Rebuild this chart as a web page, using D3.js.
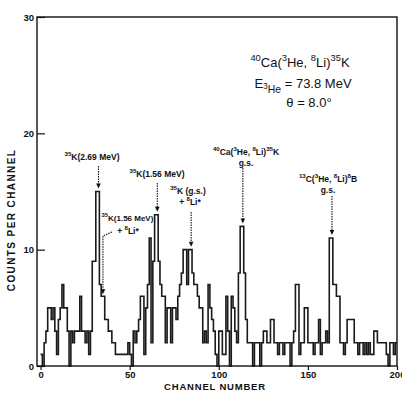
<!DOCTYPE html>
<html>
<head>
<meta charset="utf-8">
<script src="https://cdn.jsdelivr.net/npm/d3@7"></script>
<style>
  html, body { margin: 0; padding: 0; background: #fff; }
  svg { display: block; }
  text { font-family: "Liberation Sans", Arial, sans-serif; fill: #111; }
</style>
</head>
<body>
<svg id="chart" width="402" height="396"></svg>
<script>
// Counts per channel for channels 0..199
const counts = [
  1, 0, 2, 3, 5, 5, 4, 5, 3, 1,
  4, 5, 7, 5, 5, 3, 0, 3, 2, 3,
  3, 3, 6, 3, 3, 2, 3, 1, 3, 9,
  9, 15, 15, 7, 6, 6, 4, 4, 3, 3,
  2, 2, 1, 1, 1, 1, 1, 1, 1, 2,
  1, 0, 3, 2, 3, 4, 6, 6, 1, 5,
  7, 11, 2, 9, 13, 13, 9, 7, 6, 6,
  2, 5, 5, 2, 5, 5, 4, 6, 7, 8,
  10, 10, 7, 10, 10, 8, 7, 7, 6, 5,
  5, 2, 3, 2, 7, 5, 4, 3, 1, 0,
  3, 3, 1, 1, 6, 3, 0, 6, 5, 3,
  2, 8, 12, 12, 8, 4, 2, 2, 2, 0,
  2, 2, 2, 0, 2, 3, 3, 2, 2, 4,
  4, 2, 2, 1, 2, 2, 1, 2, 2, 2,
  0, 2, 3, 7, 7, 1, 2, 2, 5, 5,
  2, 2, 2, 1, 2, 2, 4, 1, 2, 2,
  3, 2, 11, 11, 7, 7, 6, 6, 2, 2,
  1, 2, 4, 4, 4, 4, 2, 2, 1, 2,
  2, 1, 2, 1, 2, 1, 1, 3, 3, 2,
  2, 2, 2, 2, 1, 0, 2, 2, 1, 2
];
const channels = d3.range(counts.length);

const xTickValues = [0, 50, 100, 150, 200];
const yTickValues = [0, 10, 20, 30];

// Reaction annotation (main title block)
const titleLines = [
  [["40", "sup"], ["Ca(", "n"], ["3", "sup"], ["He, ", "n"], ["8", "sup"], ["Li)", "n"], ["35", "sup"], ["K", "n"]],
  [["E", "n"], ["3", "subsup"], ["He", "sub"], [" = 73.8 MeV", "n"]],
  [["\u03B8 = 8.0\u00B0", "n"]]
];

// Peak labels: channel the arrow points at, text lines
const peakChannels = [32, 65, 84, 113, 163];
const peakLabels = [
  [[["35", "sup"], ["K(2.69 MeV)", "n"]]],
  [[["35", "sup"], ["K(1.56 MeV)", "n"]]],
  [[["35", "sup"], ["K (g.s.)", "n"]], [["+ ", "n"], ["8", "sup"], ["Li*", "n"]]],
  [[["40", "sup"], ["Ca(", "n"], ["3", "sup"], ["He, ", "n"], ["8", "sup"], ["Li)", "n"], ["35", "sup"], ["K", "n"]], [["g.s.", "n"]]],
  [[["13", "sup"], ["C(", "n"], ["3", "sup"], ["He, ", "n"], ["8", "sup"], ["Li)", "n"], ["8", "sup"], ["B", "n"]], [["g.s.", "n"]]]
];
const labelX = [92, 157, 188, 246, 328];
const peakLabelY = [160, 177, 194, 155, 182];
const peakArrowTop = [166, 183, 212, 168, 196];

const svg = d3.select("#chart");

const x = d3.scaleLinear().domain([-2, 200]).range([37, 397]);
const y = d3.scaleLinear().domain([0, 30]).range([366, 17]);

// Writes a text element made of normal / superscript / subscript runs
function richText(g, px, py, parts, size, anchor, weight) {
  const t = g.append("text")
    .attr("x", px).attr("y", py)
    .attr("text-anchor", anchor || "start")
    .style("font-size", size + "px")
    .style("font-weight", weight || "normal");
  const offs = { n: 0, sup: -0.45, sub: 0.35, subsup: 0.05 };
  const scl = { n: 1, sup: 0.72, sub: 0.8, subsup: 0.65 };
  let cur = 0;
  parts.forEach(([str, kind]) => {
    const target = offs[kind] * size;
    t.append("tspan")
      .attr("dy", target - cur)
      .style("font-size", (size * scl[kind]) + "px")
      .text(str);
    cur = target;
  });
  return t;
}

// Histogram as a step outline
const stepData = channels.map(c => [c, counts[c]]);
stepData.push([counts.length, counts[counts.length - 1]]);
const line = d3.line()
  .x(d => x(d[0]))
  .y(d => y(d[1]))
  .curve(d3.curveStepAfter);

svg.append("path")
  .datum(stepData)
  .attr("d", line)
  .attr("fill", "none")
  .attr("stroke", "#1a1a1a")
  .attr("stroke-width", 1.6)
  .attr("stroke-linejoin", "miter");

// Frame
svg.append("rect")
  .attr("x", x.range()[0]).attr("y", y.range()[1])
  .attr("width", x.range()[1] - x.range()[0])
  .attr("height", y.range()[0] - y.range()[1])
  .attr("fill", "none")
  .attr("stroke", "#111")
  .attr("stroke-width", 1.4);

// Axes
const yAxis = svg.append("g")
  .attr("transform", `translate(${x.range()[0]},0)`)
  .call(d3.axisLeft(y).tickValues(yTickValues).tickSize(-8).tickPadding(3).tickSizeOuter(0));
const xAxis = svg.append("g")
  .attr("transform", `translate(0,${y.range()[0]})`)
  .call(d3.axisBottom(x).tickValues(xTickValues).tickSize(4).tickPadding(1).tickSizeOuter(0));

[yAxis, xAxis].forEach(a => {
  a.select(".domain").remove();
  a.selectAll(".tick line").attr("stroke", "#111").attr("stroke-width", 1.2);
  a.selectAll(".tick text")
    .style("font-family", "Liberation Sans, Arial, sans-serif")
    .style("font-size", "9.5px")
    .style("font-weight", "bold")
    .attr("fill", "#111");
});

// Axis titles
svg.append("text")
  .attr("transform", "translate(15,220) rotate(-90)")
  .attr("text-anchor", "middle")
  .style("font-size", "10px")
  .style("font-weight", "bold")
  .style("letter-spacing", "1.4px")
  .text("COUNTS PER CHANNEL");

svg.append("text")
  .attr("x", 215).attr("y", 390)
  .attr("text-anchor", "middle")
  .style("font-size", "9.5px")
  .style("font-weight", "bold")
  .style("letter-spacing", "0.8px")
  .text("CHANNEL NUMBER");

// Title block
const tg = svg.append("g");
richText(tg, 300, 67, titleLines[0], 13, "middle");
richText(tg, 303, 88, titleLines[1], 13, "middle");
richText(tg, 309, 107, titleLines[2], 13, "middle");

// Peak labels and arrows
const lg = svg.append("g");
peakChannels.forEach((c, i) => {
  const lines = peakLabels[i];
  lines.forEach((ln, j) => {
    richText(lg, labelX[i] + (i === 2 && j === 1 ? 2 : 0), peakLabelY[i] + j * 11, ln, 8.5, "middle", "bold");
  });
  const ax = x(c + 0.5);
  const tipY = y(counts[c]) - 3;
  lg.append("line")
    .attr("x1", ax).attr("x2", ax)
    .attr("y1", peakArrowTop[i]).attr("y2", tipY - 4)
    .attr("stroke", "#111").attr("stroke-width", 1.1)
    .attr("stroke-dasharray", "1.5,1");
  lg.append("path")
    .attr("d", `M${ax - 2.3},${tipY - 5} L${ax + 2.3},${tipY - 5} L${ax},${tipY} Z`)
    .attr("fill", "#111");
});

// Label for the 1.56 MeV + 8Li* feature, with a bent arrow
const bentCh = 35;
richText(lg, 127.5, 221, [["35", "sup"], ["K(1.56 MeV)", "n"]], 8, "middle", "bold");
richText(lg, 128, 234, [["+ ", "n"], ["8", "sup"], ["Li*", "n"]], 8.5, "middle", "bold");
const bx = x(bentCh);
const bTip = y(counts[bentCh]) - 2;
lg.append("path")
  .attr("d", `M${bx + 9},${232} L${bx},${236} L${bx},${bTip - 4}`)
  .attr("fill", "none").attr("stroke", "#111").attr("stroke-width", 1.1)
  .attr("stroke-dasharray", "1.5,1");
lg.append("path")
  .attr("d", `M${bx - 2.3},${bTip - 5} L${bx + 2.3},${bTip - 5} L${bx},${bTip} Z`)
  .attr("fill", "#111");
</script>
</body>
</html>
